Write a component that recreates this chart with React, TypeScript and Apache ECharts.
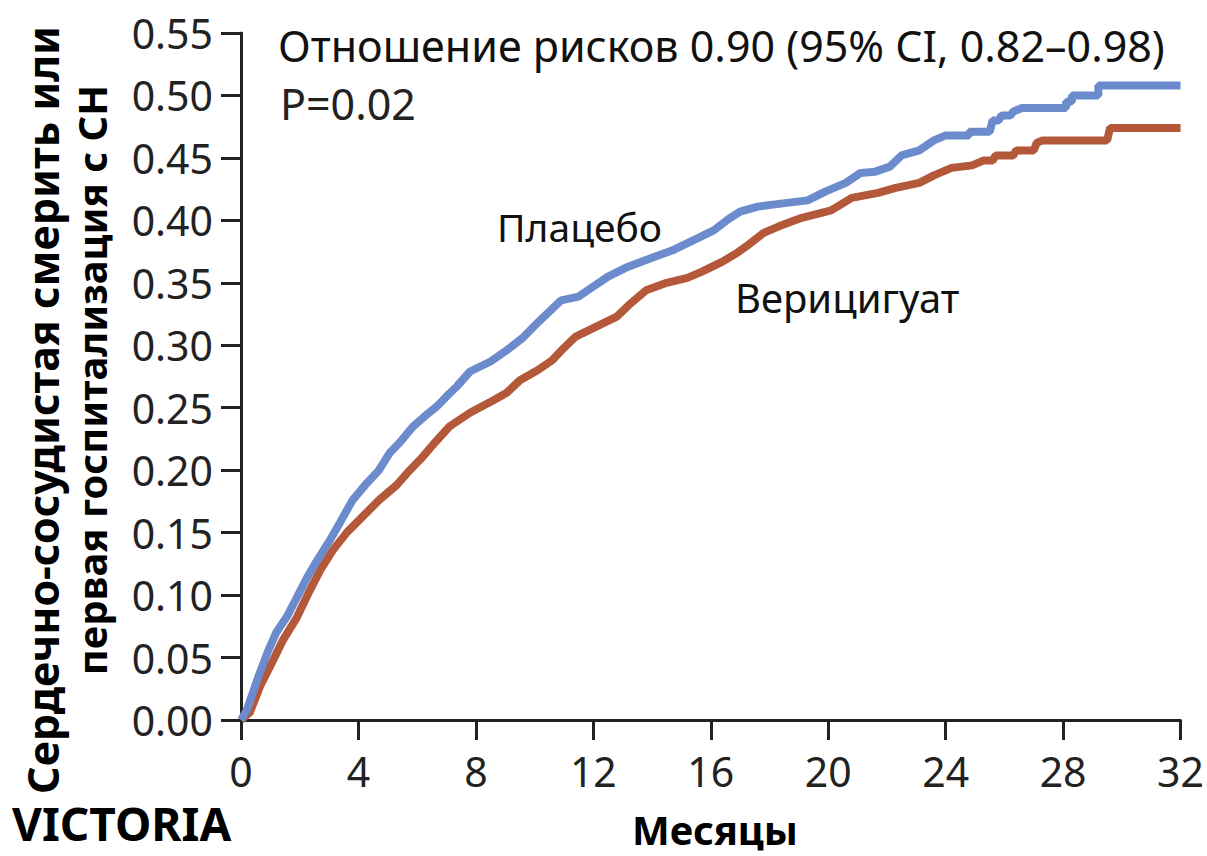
import React, { useEffect, useRef } from "react";
import * as echarts from "echarts";

// Months / cumulative risk
const placeboMonths = [
  0, 0.2, 0.55, 0.9, 1.2, 1.57, 1.9, 2.25, 2.6, 3.03, 3.37, 3.8, 4.3, 4.7, 5.07, 5.4, 5.86, 6.25, 6.67, 7.0,
  7.35, 7.8, 8.5, 9.05, 9.6, 10.1, 10.5, 10.9, 11.5, 12.0, 12.5, 13.1, 14.0, 14.7, 15.4, 16.1, 16.6, 17.0,
  17.6, 18.6, 19.3, 19.9, 20.6, 21.1, 21.6, 22.1, 22.5, 23.1, 23.6, 24.0, 24.8, 24.8, 25.5, 25.6, 25.8,
  25.9, 26.2, 26.3, 26.6, 28.1, 28.1, 28.3, 28.3, 29.2, 29.2, 32,
];
const placeboRisk = [
  0, 0.008, 0.032, 0.054, 0.07, 0.083, 0.098, 0.114, 0.128, 0.144, 0.158, 0.176, 0.19, 0.2, 0.214, 0.222,
  0.235, 0.243, 0.251, 0.259, 0.267, 0.279, 0.287, 0.296, 0.306, 0.318, 0.327, 0.336, 0.339, 0.347, 0.355,
  0.362, 0.37, 0.376, 0.384, 0.392, 0.401, 0.407, 0.411, 0.414, 0.416, 0.423, 0.43, 0.438, 0.439, 0.443,
  0.452, 0.456, 0.464, 0.468, 0.468, 0.471, 0.471, 0.48, 0.48, 0.484, 0.484, 0.487, 0.49, 0.49, 0.495,
  0.495, 0.5, 0.5, 0.508, 0.508,
];

const vericiguatMonths = [
  0, 0.3, 0.65, 1.1, 1.43, 1.9, 2.35, 2.7, 3.13, 3.6, 4.15, 4.7, 5.3, 5.75, 6.2, 6.6, 7.1, 7.8, 8.6, 9.05,
  9.5, 10.1, 10.6, 11.0, 11.4, 12.1, 12.8, 13.2, 13.8, 14.5, 15.2, 15.7, 16.4, 16.9, 17.2, 17.8, 18.3, 19.1,
  20.1, 20.8, 21.7, 22.3, 23.1, 23.6, 24.2, 24.9, 25.3, 25.6, 25.7, 26.3, 26.4, 27.0, 27.1, 27.3, 29.5,
  29.6, 32,
];
const vericiguatRisk = [
  0, 0.006, 0.027, 0.048, 0.064, 0.082, 0.104, 0.12, 0.136, 0.15, 0.163, 0.176, 0.188, 0.2, 0.211, 0.222,
  0.235, 0.246, 0.256, 0.262, 0.272, 0.28, 0.288, 0.298, 0.307, 0.315, 0.323, 0.332, 0.344, 0.35, 0.354,
  0.359, 0.367, 0.374, 0.379, 0.39, 0.395, 0.402, 0.408, 0.418, 0.422, 0.426, 0.43, 0.436, 0.442, 0.444,
  0.448, 0.448, 0.452, 0.452, 0.456, 0.456, 0.462, 0.464, 0.464, 0.474, 0.474,
];

const monthTicks = [0, 4, 8, 12, 16, 20, 24, 28, 32];
const riskTicks = [0, 0.05, 0.1, 0.15, 0.2, 0.25, 0.3, 0.35, 0.4, 0.45, 0.5, 0.55];

const seriesNames = ["Плацебо", "Верицигуат"];
const titleText = "Отношение рисков 0.90 (95% CI, 0.82–0.98)";
const pText = "P=0.02";
const yTitle1 = "Сердечно-сосудистая смерить или";
const yTitle2 = "первая госпитализация с СН";
const xTitle = "Месяцы";
const trialName = "VICTORIA";

const FONT = "'Noto Sans', 'DejaVu Sans', sans-serif";
const AXIS = "#222";

export default function App() {
  const ref = useRef<HTMLDivElement>(null);

  useEffect(() => {
    if (!ref.current) return;
    const chart = echarts.init(ref.current, undefined, { renderer: "svg" });
    const zip = (xs: number[], ys: number[]) => xs.map((x, i) => [x, ys[i]]);
    chart.setOption({
      animation: false,
      backgroundColor: "#fff",
      grid: { left: 241, right: 26, top: 33, bottom: 136, containLabel: false },
      xAxis: {
        type: "value",
        min: monthTicks[0],
        max: monthTicks[monthTicks.length - 1],
        interval: 4,
        axisLine: { show: true, lineStyle: { color: AXIS, width: 3 } },
        axisTick: { show: true, length: 20, lineStyle: { color: AXIS, width: 3 } },
        axisLabel: { margin: 30, fontSize: 41, fontFamily: FONT, color: "#222" },
        splitLine: { show: false },
      },
      yAxis: {
        type: "value",
        min: riskTicks[0],
        max: riskTicks[riskTicks.length - 1],
        interval: 0.05,
        axisLine: { show: true, lineStyle: { color: AXIS, width: 3 } },
        axisTick: { show: true, length: 20, lineStyle: { color: AXIS, width: 3 } },
        axisLabel: {
          margin: 28,
          fontSize: 41,
          fontFamily: FONT,
          color: "#222",
          formatter: (v: number) => v.toFixed(2),
        },
        splitLine: { show: false },
      },
      series: [
        {
          name: seriesNames[1],
          type: "line",
          showSymbol: false,
          symbol: "none",
          data: zip(vericiguatMonths, vericiguatRisk),
          lineStyle: { color: "#b4583a", width: 8 },
          z: 2,
        },
        {
          name: seriesNames[0],
          type: "line",
          showSymbol: false,
          symbol: "none",
          data: zip(placeboMonths, placeboRisk),
          lineStyle: { color: "#6b8bcd", width: 8 },
          z: 3,
        },
      ],
      graphic: [
        {
          type: "text",
          x: 278,
          y: 45,
          style: { text: titleText, font: `43px ${FONT}`, fill: "#111", textVerticalAlign: "middle" },
        },
        {
          type: "text",
          x: 280,
          y: 103,
          style: { text: pText, font: `43px ${FONT}`, fill: "#222", textVerticalAlign: "middle" },
        },
        {
          type: "text",
          x: 497,
          y: 226,
          style: { text: seriesNames[0], font: `39px ${FONT}`, fill: "#111", textVerticalAlign: "middle" },
        },
        {
          type: "text",
          x: 735,
          y: 297,
          style: { text: seriesNames[1], font: `40px ${FONT}`, fill: "#111", textVerticalAlign: "middle" },
        },
        {
          type: "text",
          x: 42,
          y: 410,
          rotation: Math.PI / 2,
          style: {
            text: yTitle1,
            font: `bold 43px ${FONT}`,
            fill: "#000",
            textAlign: "center",
            textVerticalAlign: "middle",
          },
        },
        {
          type: "text",
          x: 91,
          y: 380,
          rotation: Math.PI / 2,
          style: {
            text: yTitle2,
            font: `bold 40px ${FONT}`,
            fill: "#000",
            textAlign: "center",
            textVerticalAlign: "middle",
          },
        },
        {
          type: "text",
          x: 632,
          y: 829,
          style: {
            text: xTitle,
            font: `bold 40px ${FONT}`,
            fill: "#000",
            textVerticalAlign: "middle",
          },
        },
        {
          type: "text",
          x: 12,
          y: 823,
          style: {
            text: trialName,
            font: `bold 46px ${FONT}`,
            fill: "#000",
            textVerticalAlign: "middle",
          },
        },
      ],
    });
    return () => chart.dispose();
  }, []);

  return (
    <div
      ref={ref}
      style={{ position: "absolute", left: 0, top: 0, width: 1207, height: 856, background: "#fff" }}
    />
  );
}
